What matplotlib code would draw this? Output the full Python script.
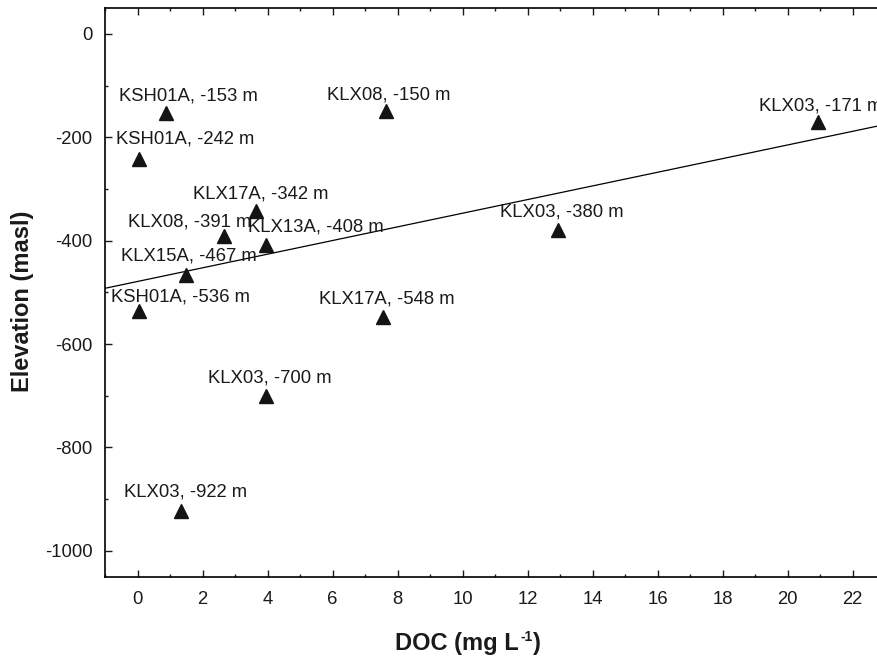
import numpy as np
import matplotlib
matplotlib.use("Agg")
import matplotlib.pyplot as plt
from matplotlib.ticker import MultipleLocator

plt.rcParams['font.family'] = ['Liberation Sans', 'DejaVu Sans']
plt.rcParams['axes.unicode_minus'] = False

# DOC concentration vs. sampling elevation per borehole section
boreholes = ['KSH01A', 'KLX08', 'KLX03', 'KSH01A', 'KLX17A', 'KLX08', 'KLX13A',
             'KLX03', 'KLX15A', 'KSH01A', 'KLX17A', 'KLX03', 'KLX03']
elevation = [-153, -150, -171, -242, -342, -391, -408, -380, -467, -536, -548, -700, -922]
doc = [0.87, 7.66, 20.95, 0.05, 3.64, 2.66, 3.95, 12.94, 1.49, 0.05, 7.54, 3.95, 1.35]

# linear trend line (slope, intercept)
trend_slope = 13.2
trend_intercept = -479.0

fig = plt.figure(figsize=(8.78, 6.59), dpi=100)
ax = fig.add_axes([0.1196, 0.1249, 1.008 - 0.1196, 0.9879 - 0.1249])

xlim = (-1, 23)
ylim = (-1050, 50)

xs = np.array(xlim, dtype=float)
ax.plot(xs, trend_slope * xs + trend_intercept, color='black', lw=0.9, zorder=2)

ax.plot(doc, elevation, linestyle='none', marker='^', ms=9.5, color='#141414', zorder=3)

# label placement relative to each marker (points): dx, dy
label_offsets = [(-34, 12), (-43, 12), (-43, 12), (-17, 14), (-45, 12), (-69, 10),
                 (-13, 13), (-42, 13), (-47, 14), (-20, 10), (-46, 13), (-42, 13), (-41, 13)]
for name, x, y, (dx, dy) in zip(boreholes, doc, elevation, label_offsets):
    ax.annotate(f'{name}, {y} m', (x, y), xytext=(dx, dy), textcoords='offset points',
                ha='left', va='center', fontsize=13.3, color='#1a1a1a', zorder=4,
                annotation_clip=False)

ax.set_xlim(*xlim)
ax.set_ylim(*ylim)
ax.xaxis.set_major_locator(MultipleLocator(2))
ax.xaxis.set_minor_locator(MultipleLocator(1))
ax.yaxis.set_major_locator(MultipleLocator(200))
ax.yaxis.set_minor_locator(MultipleLocator(100))
ax.tick_params(which='both', direction='in', top=True, right=False, labelsize=13.3,
               colors='#1a1a1a', width=1)
ax.tick_params(which='major', length=5, pad=10)
ax.tick_params(which='minor', length=2.5)
ax.tick_params(axis='y', pad=9)

for side in ['left', 'bottom', 'top']:
    ax.spines[side].set_linewidth(1.2)
ax.spines['right'].set_visible(False)

# x title built from pieces so the superscript stays small with a plain hyphen
lab = dict(fontsize=17, fontweight='bold', color='#1a1a1a')
t1 = fig.text(3.95 / 8.78, 0.09 / 6.59, 'DOC (mg L', ha='left', va='baseline', **lab)
t2 = ax.annotate('-1', xy=(1.0, 0.62), xycoords=t1, xytext=(1, 0), textcoords='offset points',
                 ha='left', va='baseline', fontsize=10, fontweight='bold', color='#1a1a1a')
ax.annotate(')', xy=(1.0, 0.0), xycoords=(t2, t1), xytext=(0.5, 0), textcoords='offset points',
            ha='left', va='bottom', **lab)

ax.set_ylabel('Elevation (masl)', **lab)
to_axes = ax.transAxes.inverted()
ax.yaxis.set_label_coords(*to_axes.transform(fig.dpi_scale_trans.transform((0.225, 3.58))))
ax.yaxis.label.set_va('center')

fig.savefig('out.png', dpi=100)
